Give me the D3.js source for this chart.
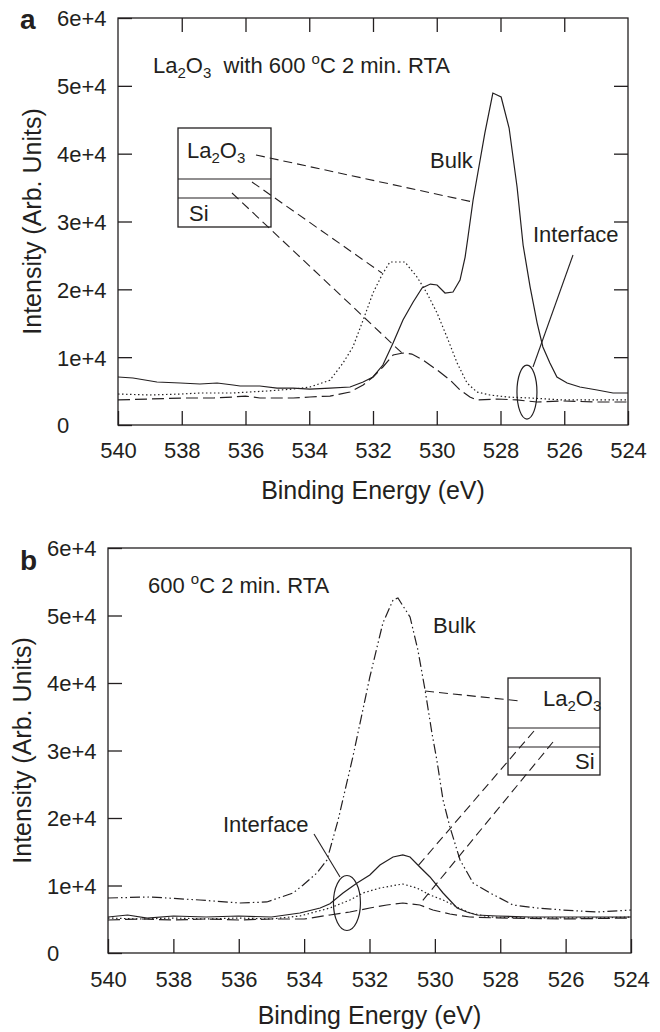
<!DOCTYPE html>
<html>
<head>
<meta charset="utf-8">
<script src="https://cdn.jsdelivr.net/npm/d3@7"></script>
<style>
body { margin: 0; background: #fff; }
text { font-family: "Liberation Sans", Arial, sans-serif; fill: #231f20; }
</style>
</head>
<body>
<div id="chart"></div>
<script>
// axis ticks (shared by both panels)
var xTicks = [540, 538, 536, 534, 532, 530, 528, 526, 524];
var yTicks = [0, 10000, 20000, 30000, 40000, 50000, 60000];
var yTickLabels = ['0', '1e+4', '2e+4', '3e+4', '4e+4', '5e+4', '6e+4'];

// panel a : La2O3 with 600 C 2 min RTA
var aSolidE = [540, 539.53, 538.78, 538.05, 537.43, 536.89, 536.39, 536.17, 535.55, 535.01, 534.51, 533.98, 533.35, 532.72, 532.31, 532.0, 531.69, 531.37, 531.06, 530.74, 530.46, 530.2, 529.99, 529.74, 529.49, 529.27, 529.11, 529.02, 528.86, 528.49, 528.24, 527.98, 527.73, 527.48, 527.29, 527.07, 526.85, 526.67, 526.45, 526.23, 525.91, 525.51, 524.97, 524.47, 524.0];
var aSolidI = [7080, 6930, 6340, 6190, 6045, 6190, 5900, 5750, 5750, 5450, 5450, 5300, 5450, 5600, 6340, 7080, 8840, 12090, 15480, 18130, 20200, 20780, 20640, 19460, 19600, 21370, 24760, 27710, 33170, 43050, 48940, 48350, 43780, 35080, 26500, 20340, 15030, 11500, 9140, 7080, 6190, 5600, 5160, 4720, 4720];

var aDotE = [540, 539.0, 538.0, 537.43, 536.39, 535.33, 534.51, 533.98, 533.35, 532.94, 532.63, 532.31, 532.0, 531.72, 531.47, 531.0, 530.62, 530.31, 529.99, 529.68, 529.36, 529.05, 528.74, 528.33, 527.8, 527.07, 526.04, 524.97, 524.0];
var aDotI = [4570, 4420, 4570, 4720, 4720, 5010, 5300, 5600, 6600, 9140, 11500, 15480, 19460, 22110, 24030, 24030, 21820, 19460, 16510, 12970, 9140, 6190, 4860, 4420, 4130, 3980, 3690, 3690, 3690];

var aDashE = [540, 539.0, 538.0, 537.0, 536.39, 536.0, 535.55, 534.5, 533.98, 533.35, 532.72, 532.31, 532.0, 531.69, 531.37, 531.06, 530.78, 530.43, 529.99, 529.58, 529.27, 528.96, 528.74, 528.11, 527.48, 526.85, 526.04, 524.97, 524.0];
var aDashI = [3690, 3830, 3980, 3980, 4130, 4270, 3980, 3980, 4130, 4270, 4860, 5900, 7080, 8550, 10320, 10610, 10460, 9580, 8110, 6630, 5160, 4130, 3690, 3830, 3690, 3390, 3540, 3390, 3390];

// panel b : 600 C 2 min RTA
var bBulkE = [540, 538.72, 537.19, 535.96, 535.14, 534.34, 534.03, 533.61, 533.3, 532.96, 532.51, 531.99, 531.59, 531.28, 531.13, 530.76, 530.52, 530.3, 530.09, 529.94, 529.75, 529.54, 529.23, 528.83, 528.31, 527.61, 526.88, 526.08, 525.04, 524.0];
var bBulkI = [8150, 8300, 7850, 7410, 7560, 8890, 10070, 11850, 13780, 19700, 29040, 40890, 48890, 52300, 52590, 49780, 44890, 38960, 32590, 28590, 22670, 18670, 13780, 10370, 8890, 7110, 6670, 6370, 6070, 6370];

var bSolidE = [540, 539.4, 538.8, 538, 537, 536, 535, 534.13, 533.51, 533.21, 532.81, 532.38, 531.99, 531.68, 531.28, 530.98, 530.76, 530.46, 530.15, 529.75, 529.32, 529.02, 528.71, 528.1, 527.09, 526.08, 525.04, 524.0];
var bSolidI = [5330, 5630, 5180, 5480, 5330, 5480, 5330, 5930, 6670, 7300, 8890, 10370, 11560, 13040, 14220, 14520, 14220, 12740, 11260, 8890, 6670, 6070, 5630, 5480, 5330, 5330, 5330, 5330];

var bDotE = [540, 539, 538, 537, 536, 535, 534.13, 533.21, 532.6, 532.2, 531.68, 531.16, 530.98, 530.55, 530.15, 529.75, 529.32, 528.93, 528.31, 527.09, 525.04, 524.0];
var bDotI = [5180, 5040, 5180, 5040, 5180, 5040, 5480, 6670, 7850, 8890, 9630, 10070, 10220, 9630, 8590, 7850, 6810, 5930, 5330, 5190, 5190, 5330];

var bDashE = [540, 539, 538, 537, 536, 535, 534, 533.21, 532.6, 531.99, 531.47, 530.98, 530.46, 530.06, 529.54, 528.93, 528.1, 526.08, 524.0];
var bDashI = [4890, 5040, 4890, 5040, 4890, 5040, 5040, 5630, 6070, 6670, 7110, 7410, 7110, 6370, 5780, 5330, 5190, 5040, 5190];

// styles
var ink = '#231f20';
var dashLong = '12,5';
var dots = '1.5,2.5';
var dashDot = '10,3,1.5,3,1.5,3';
var leaderDash = '9,5';

var svg = d3.select('#chart').append('svg')
	.attr('width', 660)
	.attr('height', 1032);

// text with sub (-1) / super (+1) script parts
function richText(g, x, y, parts, size) {
	var t = g.append('text').attr('x', x).attr('y', y)
		.style('font-size', size + 'px')
		.style('white-space', 'pre');
	var shift = 0;
	parts.forEach(function (p) {
		var s = p[1] || 0;
		var target = s < 0 ? 5 : (s > 0 ? -9 : 0);
		t.append('tspan')
			.attr('dy', target - shift)
			.style('font-size', s ? '15px' : null)
			.text(p[0]);
		shift = target;
	});
	return t;
}

var la2o3 = [['La'], ['2', -1], ['O'], ['3', -1]];

function makePanel(box, curves, opts) {
	var x = d3.scaleLinear().domain([540, 524]).range([box.left, box.right]);
	var y = d3.scaleLinear().domain([0, 60000]).range([box.bottom, box.top]);
	var g = svg.append('g');

	var bottom = g.append('g')
		.attr('transform', 'translate(0,' + box.bottom + ')')
		.call(d3.axisBottom(x).tickValues(xTicks).tickSize(-14).tickSizeOuter(0).tickPadding(box.xPad));
	var left = g.append('g')
		.attr('transform', 'translate(' + box.left + ',0)')
		.call(d3.axisLeft(y).tickValues(yTicks).tickSize(-14).tickSizeOuter(0)
			.tickFormat(function (d, i) { return yTickLabels[i]; }));
	left.selectAll('text')
		.attr('text-anchor', 'start')
		.attr('x', box.labelX - box.left)
		.attr('dy', '0.36em');
	if (opts.allTicks) {
		g.append('g')
			.attr('transform', 'translate(' + box.right + ',0)')
			.call(d3.axisRight(y).tickValues(yTicks.slice(1, 6)).tickSize(-14).tickSizeOuter(0).tickFormat(''));
		g.append('g')
			.attr('transform', 'translate(0,' + box.top + ')')
			.call(d3.axisTop(x).tickValues(xTicks.slice(1, 8)).tickSize(-14).tickSizeOuter(0).tickFormat(''));
	}
	g.selectAll('.domain').remove();
	g.selectAll('.tick line').attr('stroke', ink).attr('stroke-width', 1.3);
	g.selectAll('.tick text')
		.style('font-size', '22px')
		.style('font-family', '"Liberation Sans", Arial, sans-serif')
		.attr('fill', ink);

	g.append('rect')
		.attr('x', box.left).attr('y', box.top)
		.attr('width', box.right - box.left).attr('height', box.bottom - box.top)
		.attr('fill', 'none').attr('stroke', ink).attr('stroke-width', 1.3);

	var line = d3.line()
		.x(function (d) { return x(d[0]); })
		.y(function (d) { return y(d[1]); });
	curves.forEach(function (c) {
		g.append('path')
			.datum(d3.zip(c.e, c.i))
			.attr('d', line)
			.attr('fill', 'none')
			.attr('stroke', ink)
			.attr('stroke-width', 1.2)
			.attr('stroke-dasharray', c.dash);
	});

	// axis titles
	g.append('text')
		.attr('x', (box.left + box.right) / 2).attr('y', box.titleY)
		.attr('text-anchor', 'middle')
		.style('font-size', '25px')
		.text('Binding Energy (eV)');
	g.append('text')
		.attr('transform', 'translate(' + box.yTitleX + ',' + (box.top + box.bottom) / 2 + ') rotate(-90)')
		.attr('text-anchor', 'middle')
		.style('font-size', '25px')
		.text('Intensity (Arb. Units)');

	g.append('text')
		.attr('x', 20).attr('y', box.letterY)
		.style('font-size', '28px').style('font-weight', 'bold')
		.text(opts.letter);

	return { g: g, x: x, y: y };
}

function leader(g, x1, y1, x2, y2, dash) {
	g.append('line')
		.attr('x1', x1).attr('y1', y1).attr('x2', x2).attr('y2', y2)
		.attr('stroke', ink).attr('stroke-width', 1.1)
		.attr('stroke-dasharray', dash || null);
}

function stackBox(g, x0, y0, w, h, l1, l2) {
	g.append('rect').attr('x', x0).attr('y', y0).attr('width', w).attr('height', h)
		.attr('fill', 'none').attr('stroke', ink).attr('stroke-width', 1.3);
	leader(g, x0, l1, x0 + w, l1);
	leader(g, x0, l2, x0 + w, l2);
}

function plotA() {
	var p = makePanel(
		{ left: 118, right: 628, top: 18, bottom: 425, xPad: 17, labelX: 57, titleY: 499, yTitleX: 41, letterY: 29 },
		[{ e: aSolidE, i: aSolidI, dash: null },
		 { e: aDotE, i: aDotI, dash: dots },
		 { e: aDashE, i: aDashI, dash: dashLong }],
		{ allTicks: true, letter: 'a' });
	var g = p.g, x = p.x, y = p.y;

	richText(g, 153, 73, la2o3.concat([['  with 600 '], ['o', 1], ['C 2 min. RTA']]), 22);

	stackBox(g, 178, 128, 93, 99, 179, 198);
	richText(g, 187, 158, la2o3, 22);
	richText(g, 189, 221, [['Si']], 22);

	g.append('text').attr('x', 430).attr('y', 168).style('font-size', '22px').text('Bulk');
	g.append('text').attr('x', 533).attr('y', 242).style('font-size', '22px').text('Interface');

	leader(g, 256, 155, x(528.86), y(32870), leaderDash);
	leader(g, 252, 182, x(531.72), y(22400), leaderDash);
	leader(g, 232, 193, x(531.09), y(10610), leaderDash);
	leader(g, 573, 255, x(526.98), y(8550));
	g.append('ellipse')
		.attr('cx', x(527.17)).attr('cy', y(4860)).attr('rx', 10).attr('ry', 27)
		.attr('fill', 'none').attr('stroke', ink).attr('stroke-width', 1.2);
}

function plotB() {
	var p = makePanel(
		{ left: 108, right: 631, top: 548, bottom: 953, xPad: 18, labelX: 47, titleY: 1024, yTitleX: 31, letterY: 570 },
		[{ e: bBulkE, i: bBulkI, dash: dashDot },
		 { e: bSolidE, i: bSolidI, dash: null },
		 { e: bDotE, i: bDotI, dash: dots },
		 { e: bDashE, i: bDashI, dash: dashLong }],
		{ allTicks: false, letter: 'b' });
	var g = p.g, x = p.x, y = p.y;

	richText(g, 148, 593, [['600 '], ['o', 1], ['C 2 min. RTA']], 22);

	stackBox(g, 508, 678, 92, 97, 728, 747);
	richText(g, 543, 706, la2o3, 22);
	richText(g, 575, 769, [['Si']], 22);

	g.append('text').attr('x', 433).attr('y', 633).style('font-size', '22px').text('Bulk');
	g.append('text').attr('x', 223).attr('y', 832).style('font-size', '22px').text('Interface');

	leader(g, x(530.3), y(38810), 520, 701, leaderDash);
	leader(g, 534, 731, x(530.52), y(12890), leaderDash);
	leader(g, 553, 742, x(530.46), y(7260), leaderDash);
	leader(g, 314, 834, 340, 877);
	g.append('ellipse')
		.attr('cx', x(532.69)).attr('cy', y(7410)).attr('rx', 13.5).attr('ry', 27.5)
		.attr('fill', 'none').attr('stroke', ink).attr('stroke-width', 1.2);
}

plotA();
plotB();
</script>
</body>
</html>
